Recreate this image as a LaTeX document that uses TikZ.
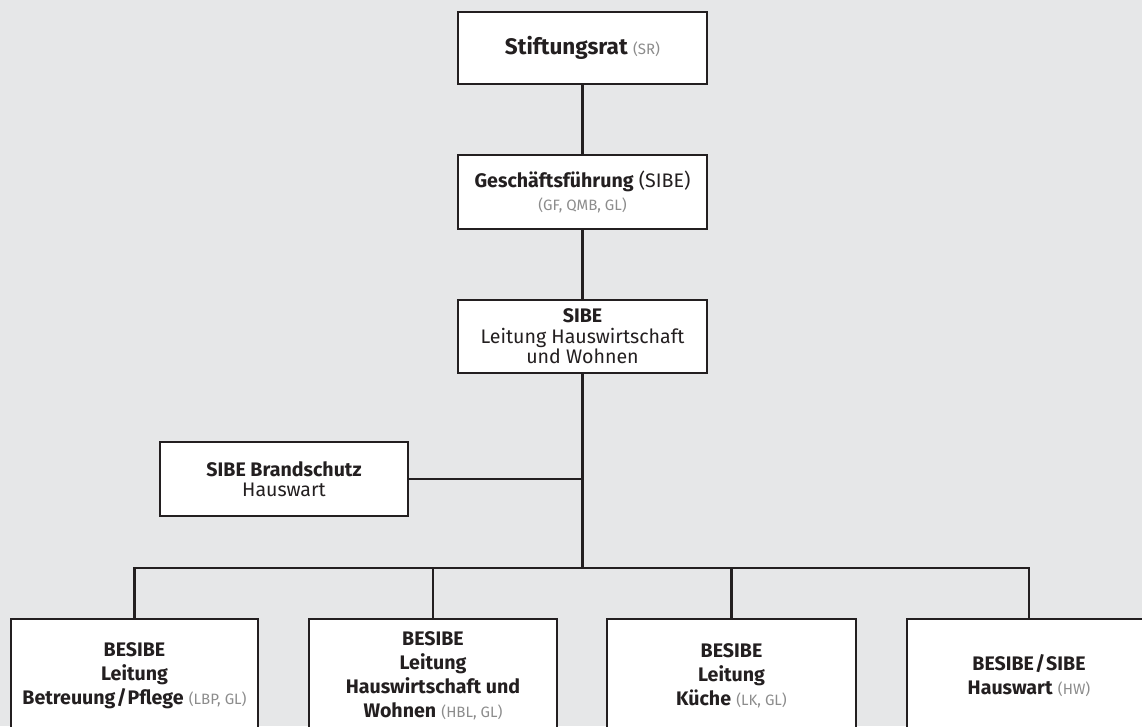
\documentclass[tikz,border=0pt]{standalone}
\usepackage{fontspec}
\setmainfont{Fira Sans}
\definecolor{bg}{HTML}{E6E7E8}
\definecolor{ink}{HTML}{231F20}
\definecolor{abbr}{HTML}{8C8C8C}
\newcommand{\abbrtxt}[1]{{\fontsize{15}{18}\selectfont\mdseries\color{abbr}#1}}
\begin{document}
\begin{tikzpicture}[x=1pt,y=-1pt,
  box/.style={draw=ink, line width=2.6pt, fill=white, minimum width=249pt,
    align=center, text=ink, inner sep=0pt, font=\fontsize{19.6}{20.5}\selectfont},
  lowbox/.style={box, minimum height=114pt, font=\fontsize{19.6}{24}\selectfont},
  conn/.style={draw=ink, line width=2.6pt}]
\useasboundingbox (0,0) rectangle (1142,726);
\fill[bg] (0,0) rectangle (1142,726);
\clip (0,0) rectangle (1142,726);
\node[box, minimum height=72pt] (sr) at (582.5,48) {{\fontsize{22.5}{24}\selectfont\textbf{Stiftungsrat}} \abbrtxt{(SR)}};
\node[box, minimum height=74pt, font=\fontsize{19.6}{23}\selectfont] (gf) at (582.5,192) {\textbf{Geschäftsführung} (SIBE)\\\abbrtxt{(GF, QMB, GL)}};
\node[box, minimum height=73pt] (sibe) at (582.5,336.5) {\textbf{SIBE}\\Leitung Hauswirtschaft\\und Wohnen};
\node[box, minimum width=248pt, minimum height=74pt] (bs) at (284,479) {\textbf{SIBE Brandschutz}\\Hauswart};
\node[lowbox, minimum width=247pt] (b1) at (134.5,676) {\textbf{BESIBE}\\\textbf{Leitung}\\\textbf{Betreuung\kern1pt/\kern1pt Pflege} \abbrtxt{(LBP, GL)}};
\node[lowbox, minimum width=248pt] (b2) at (433,676) {\textbf{BESIBE}\\\textbf{Leitung}\\\textbf{Hauswirtschaft und}\\\textbf{Wohnen} \abbrtxt{(HBL, GL)}};
\node[lowbox, minimum width=249pt] (b3) at (731.5,676) {\textbf{BESIBE}\\\textbf{Leitung}\\\textbf{Küche} \abbrtxt{(LK, GL)}};
\node[lowbox, minimum width=244pt] (b4) at (1029,676) {\textbf{BESIBE\kern1pt/\kern1pt SIBE}\\\textbf{Hauswart} \abbrtxt{(HW)}};
\coordinate (bsj) at (582.5,479);
\coordinate (busc) at (582.5,568);
\draw[conn] (sr) -- (gf);
\draw[conn] (gf) -- (sibe);
\draw[conn] (sibe) -- (busc);
\draw[conn] (bs) -- (bsj);
\draw[conn] (b1.north) |- (busc) -| (b4.north);
\draw[conn] (b2.north) -- (b2.north |- busc);
\draw[conn] (b3.north) -- (b3.north |- busc);
\end{tikzpicture}
\end{document}
